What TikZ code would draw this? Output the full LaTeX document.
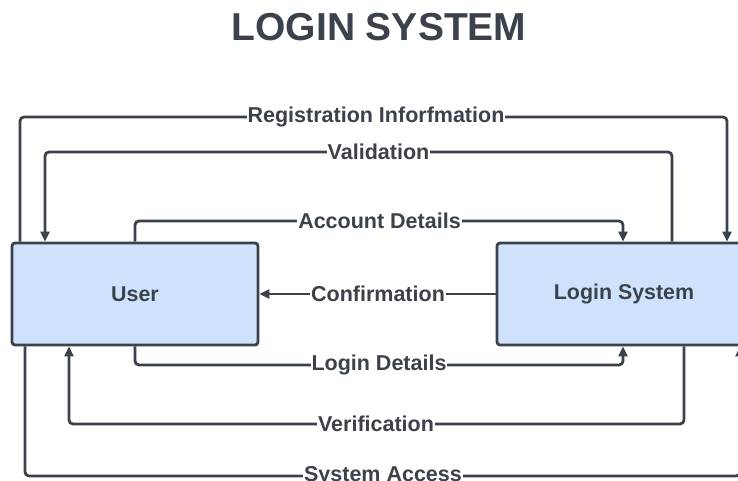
\documentclass[tikz,border=0pt]{standalone}
\usepackage{fontspec}
\setmainfont{Liberation Sans}
\usetikzlibrary{arrows.meta}
\definecolor{ink}{HTML}{3B424C}
\definecolor{boxfill}{HTML}{CFE2FB}
\tikzset{
  procbox/.style={draw=ink, fill=boxfill, line width=2.8pt, rounded corners=3pt,
    minimum width=#1, minimum height=102pt, inner sep=0pt, text=ink,
    font=\bfseries\fontsize{21.4pt}{25pt}\selectfont},
  flow/.style={draw=ink, line width=2.8pt, rounded corners=4pt},
  flowarrow/.style={flow, -{Triangle[length=10pt,width=9pt]}},
  lbl/.style={fill=white, text=ink, inner xsep=1pt, inner ysep=1pt,
    font=\bfseries\fontsize{21.5pt}{25pt}\selectfont},
}
\begin{document}
\begin{tikzpicture}[x=1pt,y=-1pt]
  \useasboundingbox (0,0) rectangle (738,481);
  \clip (0,0) rectangle (738,481);

  % title
  \node[text=ink, font=\bfseries\fontsize{39pt}{44pt}\selectfont] (title) at (379,27) {LOGIN SYSTEM};

  % the two processes
  \node[procbox=246pt] (user) at (135,294) {User};
  \node[procbox=254pt] (login) at (624,294) {Login System};

  % flows above the boxes
  \draw[flowarrow] (user.north -| 20,0) -- (20,117) -- (727,117) -- (login.north -| 727,0);
  \draw[flowarrow] (login.north -| 672,0) -- (672,152) -- (45,152) -- (user.north -| 45,0);
  \draw[flowarrow] (user.north -| 135,0) -- (135,221) -- (623,221) -- (login.north -| 623,0);

  % flow between the boxes
  \draw[flowarrow] (login.west) -- (user.east);

  % flows below the boxes
  \draw[flowarrow] (user.south -| 135,0) -- (135,365) -- (623,365) -- (login.south -| 623,0);
  \draw[flowarrow] (login.south -| 684,0) -- (684,424) -- (69,424) -- (user.south -| 69,0);
  \draw[flowarrow] (user.south -| 25,0) -- (25,476) -- (740,476) -- (login.south -| 740,0);

  % flow labels
  \node[lbl] (lreg) at (376,117) {Registration Inforfmation};
  \node[lbl] (lval) at (378.5,152) {Validation};
  \node[lbl] (lacc) at (379.5,221) {Account Details};
  \node[lbl] (lcon) at (378,294) {Confirmation};
  \node[lbl] (llog) at (379,365) {Login Details};
  \node[lbl] (lver) at (376,424) {Verification};
  \node[lbl] (lsys) at (383,476) {System Access};
\end{tikzpicture}
\end{document}
